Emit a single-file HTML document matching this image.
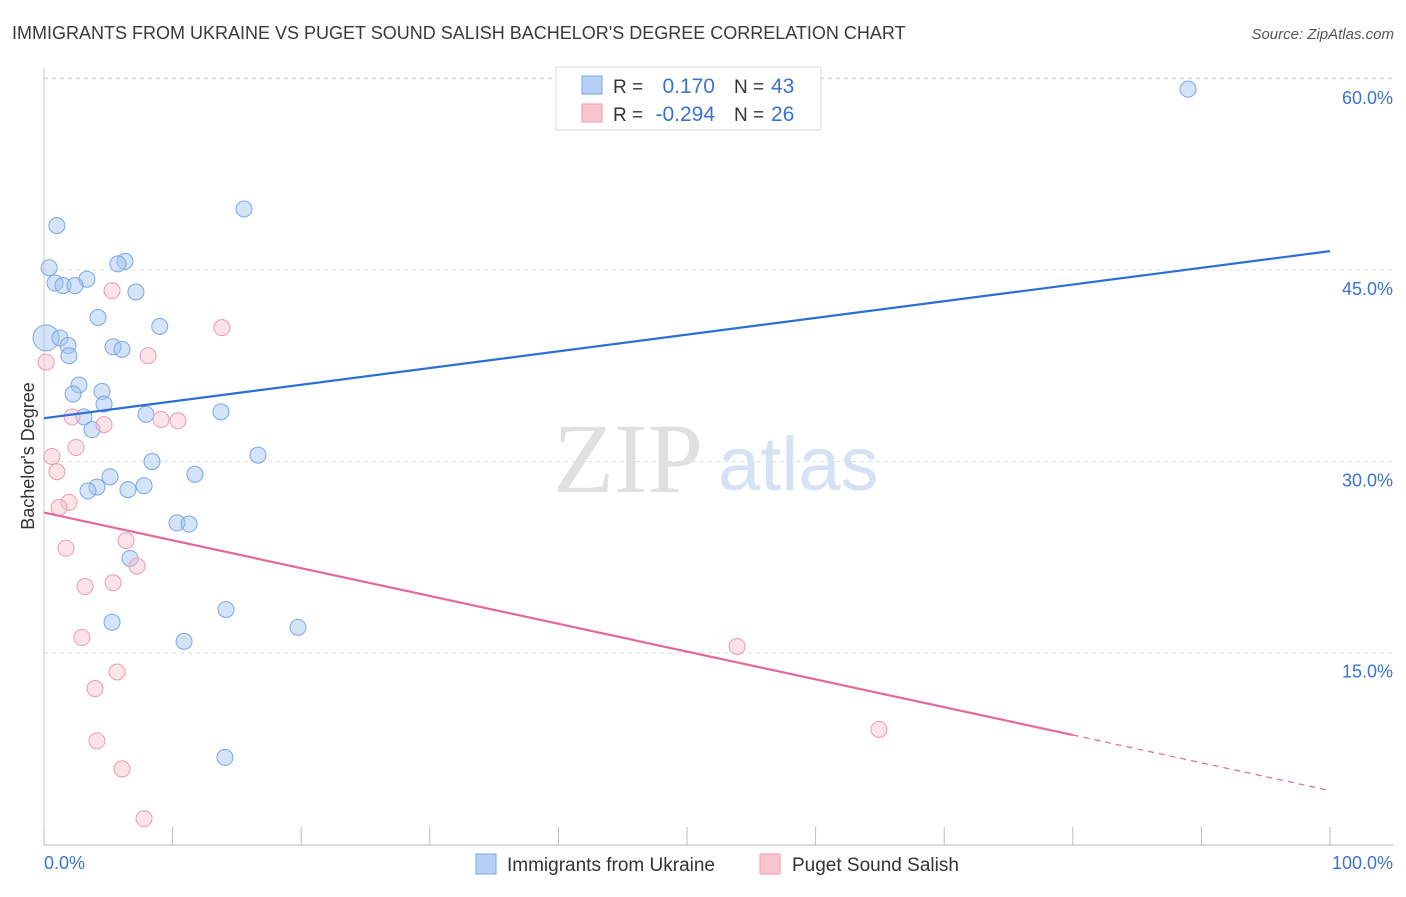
<!DOCTYPE html>
<html><head><meta charset="utf-8"><style>
body{margin:0;background:#fff;font-family:"Liberation Sans",sans-serif;}
svg text{font-family:"Liberation Sans",sans-serif;}
</style></head><body>
<svg id="c" width="1406" height="892">
<text x="12" y="39" font-size="18" fill="#3a3a3a">IMMIGRANTS FROM UKRAINE VS PUGET SOUND SALISH BACHELOR'S DEGREE CORRELATION CHART</text>
<text x="1394" y="39" font-size="15" fill="#555" text-anchor="end" font-style="italic">Source: ZipAtlas.com</text>
<text x="553" y="492" font-size="100" fill="#e0e0e0" style="font-family:'Liberation Serif',serif">ZIP</text>
<text x="718" y="490" font-size="76" fill="#d6e2f3">atlas</text>
<g id="grid"></g><g id="pts"></g><g id="lines"></g>
<text transform="translate(34,456) rotate(-90)" font-size="18" fill="#333" text-anchor="middle">Bachelor's Degree</text>
<text x="44" y="869" font-size="18" fill="#3b73d1">0.0%</text>
<text x="1393" y="869" font-size="18" fill="#3b73d1" text-anchor="end">100.0%</text>
<g>
<rect x="556" y="67" width="265" height="63" fill="#fff" stroke="#ddd"/>
<rect x="582" y="76" width="20" height="18" fill="#b5cff5" stroke="#7aa6e6"/>
<rect x="582" y="104" width="20" height="18" fill="#f9c5d3" stroke="#ee9ab2"/>
<text x="613" y="93" font-size="19" fill="#333">R =</text>
<text x="715" y="93" font-size="21" fill="#3b73d1" text-anchor="end">0.170</text>
<text x="734" y="93" font-size="19" fill="#333">N =</text>
<text x="771" y="93" font-size="21" fill="#3b73d1">43</text>
<text x="613" y="121" font-size="19" fill="#333">R =</text>
<text x="715" y="121" font-size="21" fill="#3b73d1" text-anchor="end">-0.294</text>
<text x="734" y="121" font-size="19" fill="#333">N =</text>
<text x="771" y="121" font-size="21" fill="#3b73d1">26</text>
</g>
<g>
<rect x="476" y="854" width="20" height="20" fill="#b5cff5" stroke="#7aa6e6"/>
<text x="507" y="871" font-size="19" fill="#333">Immigrants from Ukraine</text>
<rect x="760" y="854" width="20" height="20" fill="#f9c5d3" stroke="#ee9ab2"/>
<text x="792" y="871" font-size="19" fill="#333">Puget Sound Salish</text>
</g>
</svg>
<script>
const yTicks=[15,30,45,60];
const yTickLabels=["15.0%","30.0%","45.0%","60.0%"];
const xTicks=[0,10,20,30,40,50,60,70,80,90,100];
const blueX=[88.96,15.55,1.0,6.3,5.75,0.4,0.86,3.34,1.48,2.41,7.15,4.2,9.0,0.16,1.24,1.87,5.37,6.07,1.94,2.72,2.26,4.51,4.67,7.93,13.76,3.11,3.73,8.4,16.64,11.74,5.13,4.12,3.42,7.78,6.53,10.34,11.28,6.69,14.15,5.29,19.75,10.89,14.07];
const blueY=[60.6,51.2,49.9,47.1,46.9,46.6,45.4,45.7,45.2,45.2,44.7,42.7,42.0,41.1,41.1,40.5,40.4,40.2,39.7,37.4,36.7,36.9,35.9,35.1,35.3,34.9,33.9,31.4,31.9,30.4,30.2,29.4,29.1,29.5,29.2,26.6,26.5,23.8,19.8,18.8,18.4,17.3,8.2];
const pinkX=[0.16,5.29,13.84,8.09,2.18,4.67,9.1,10.42,2.49,0.62,1.0,1.94,1.17,1.71,6.38,7.23,3.19,5.37,2.95,53.89,5.68,3.97,64.93,4.12,6.07,7.78];
const pinkY=[39.2,44.8,41.9,39.7,34.9,34.3,34.7,34.6,32.5,31.8,30.6,28.2,27.8,24.6,25.2,23.2,21.6,21.9,17.6,16.9,14.9,13.6,10.4,9.5,7.3,3.4];
const blueTrend=[34.8,47.9];
const pinkTrend=[27.4,5.6];
const pinkSolidEnd=80;
const NS="http://www.w3.org/2000/svg";
const X=v=>44+v*12.86, Y=v=>862-v*12.753;
function mk(t,a,p){const e=document.createElementNS(NS,t);for(const k in a)e.setAttribute(k,a[k]);p.appendChild(e);return e;}
const g=document.getElementById('grid');
yTicks.forEach((t,i)=>{
 const l=mk('line',{x1:44,x2:1393,y1:Y(t)-18,y2:Y(t)-18,stroke:'#ddd','stroke-dasharray':'4,4'},g);
 
 
 const tx=mk('text',{x:1393,y:Y(t)+7,'font-size':18,fill:'#3b73d1','text-anchor':'end'},g);
 tx.textContent=yTickLabels[i];
 
 
});
const topGrid=mk('line',{x1:44,x2:1393,y1:78,y2:78,stroke:'#ddd','stroke-dasharray':'4,4'},g);


const ax=mk('line',{x1:44,x2:1393,y1:845,y2:845,stroke:'#bbb'},g);


const ay=mk('line',{x1:44,x2:44,y1:68,y2:845,stroke:'#ccc'},g);


xTicks.forEach(t=>{const l=mk('line',{x1:X(t),x2:X(t),y1:827,y2:845,stroke:'#bbb'},g);
 
 });
const P=document.getElementById('pts');
blueX.forEach((x,i)=>{const c=mk('circle',{cx:X(x),cy:Y(blueY[i]),r:(i==13?13:8),fill:'rgba(160,196,240,0.45)',stroke:'#7aa6e6','stroke-width':1},P);
 
 });
pinkX.forEach((x,i)=>{const c=mk('circle',{cx:X(x),cy:Y(pinkY[i]),r:8,fill:'rgba(248,190,206,0.45)',stroke:'#ee9ab2','stroke-width':1},P);
 
 });
const L=document.getElementById('lines');
const b=mk('line',{x1:X(0),y1:Y(blueTrend[0]),x2:X(100),y2:Y(blueTrend[1]),stroke:'#2a6fd6','stroke-width':2.2},L);


const pe=pinkTrend[0]+(pinkTrend[1]-pinkTrend[0])*pinkSolidEnd/100;
const p1=mk('line',{x1:X(0),y1:Y(pinkTrend[0]),x2:X(pinkSolidEnd),y2:Y(pe),stroke:'#e5689a','stroke-width':2.2},L);


const p2=mk('line',{x1:X(pinkSolidEnd),y1:Y(pe),x2:X(100),y2:Y(pinkTrend[1]),stroke:'#e5689a','stroke-width':1.2,'stroke-dasharray':'6,5'},L);


</script>
</body></html>
